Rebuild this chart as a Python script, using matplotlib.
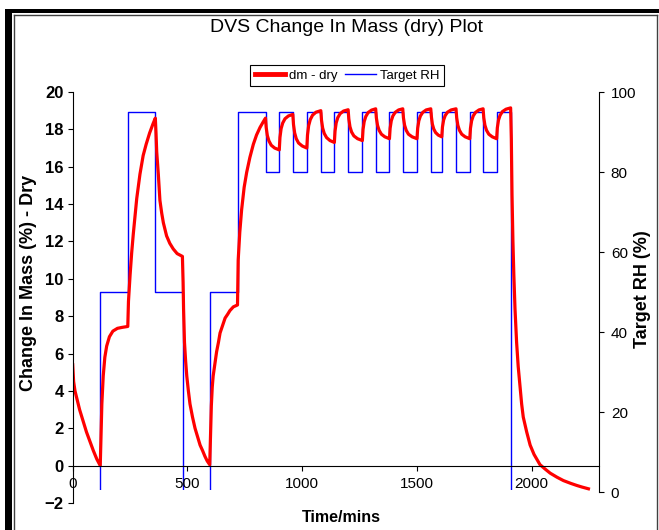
import matplotlib
matplotlib.use("Agg")
import matplotlib.pyplot as plt
from matplotlib.patches import Rectangle
from matplotlib.lines import Line2D

plt.rcParams['font.family'] = ['Liberation Sans', 'DejaVu Sans']

# target RH steps (minutes, %)
rh_time = [0, 120, 240, 360, 480, 600, 720, 840, 900, 959, 1020, 1081, 1140,
           1200, 1262, 1320, 1380, 1438, 1500, 1560, 1608, 1670, 1730, 1788,
           1847, 1910, 2290]
rh_val = [0, 50, 95, 50, 0, 50, 95, 80, 95, 80, 95, 80, 95,
          80, 95, 80, 95, 80, 95, 80, 95, 80, 95, 80,
          95, 0, 0]

# change in mass (dry)
mass_time = [0, 4, 10, 20, 30, 45, 60, 75, 90, 105, 120,
             123, 127, 133, 140, 148, 160, 175, 195, 215, 240,
             243, 250, 257, 264, 272, 279, 293, 307, 320, 335, 350, 360,
             363, 366, 373, 380, 388, 395, 409, 423, 438, 455, 478,
             481, 483, 487, 492, 497, 504, 511, 522, 533, 545, 555, 566, 576, 586, 597,
             601, 604, 608, 612, 620, 627, 635, 642, 653, 664, 675, 685, 700, 718,
             721, 728, 736, 747, 758, 772, 787, 801, 816, 830, 840,
             843, 848, 855, 865, 880, 900,
             903, 908, 915, 925, 940, 959,
             962, 967, 974, 984, 1000, 1020,
             1023, 1028, 1035, 1045, 1060, 1081,
             1084, 1089, 1096, 1106, 1121, 1140,
             1143, 1148, 1155, 1165, 1180, 1200,
             1203, 1208, 1215, 1225, 1241, 1262,
             1265, 1270, 1277, 1287, 1302, 1320,
             1323, 1328, 1335, 1345, 1360, 1380,
             1383, 1388, 1395, 1405, 1420, 1438,
             1441, 1446, 1453, 1463, 1479, 1500,
             1503, 1508, 1515, 1525, 1540, 1560,
             1563, 1567, 1573, 1581, 1593, 1608,
             1611, 1616, 1623, 1633, 1649, 1670,
             1673, 1678, 1685, 1695, 1710, 1730,
             1733, 1738, 1745, 1755, 1770, 1788,
             1791, 1796, 1803, 1813, 1828, 1847,
             1850, 1855, 1862, 1872, 1888, 1908,
             1911, 1914, 1918, 1922, 1927, 1934, 1941, 1949, 1956, 1963, 1978,
             1993, 2010, 2036, 2060, 2080, 2110, 2138, 2170, 2196, 2220, 2247]
mass_dry = [5.4, 4.5, 4.0, 3.5, 3.0, 2.4, 1.8, 1.3, 0.8, 0.35, 0.0,
            1.5, 3.3, 4.8, 5.8, 6.4, 6.9, 7.2, 7.35, 7.4, 7.45,
            8.8, 10.2, 11.4, 12.4, 13.4, 14.3, 15.6, 16.6, 17.2, 17.8, 18.3, 18.6,
            17.8, 16.8, 15.6, 14.2, 13.5, 13.0, 12.3, 11.9, 11.6, 11.35, 11.2,
            9.8, 8.4, 6.6, 5.6, 4.8, 4.0, 3.3, 2.6, 2.0, 1.5, 1.1, 0.8, 0.5, 0.25, 0.05,
            1.9, 3.2, 4.2, 4.8, 5.5, 6.1, 6.6, 7.1, 7.5, 7.9, 8.1, 8.3, 8.5, 8.6,
            11.0, 12.5, 13.7, 14.9, 15.7, 16.5, 17.2, 17.7, 18.1, 18.4, 18.6,
            18.1, 17.67, 17.38, 17.15, 17.0, 16.9,
            17.57, 18.04, 18.34, 18.57, 18.72, 18.8,
            18.26, 17.81, 17.5, 17.27, 17.11, 17.0,
            17.7, 18.2, 18.52, 18.76, 18.92, 19.0,
            18.49, 18.07, 17.78, 17.56, 17.4, 17.3,
            17.91, 18.35, 18.63, 18.84, 18.98, 19.05,
            18.56, 18.14, 17.86, 17.65, 17.5, 17.4,
            18.0, 18.42, 18.69, 18.9, 19.03, 19.1,
            18.62, 18.22, 17.95, 17.74, 17.6, 17.5,
            18.06, 18.46, 18.72, 18.91, 19.04, 19.1,
            18.62, 18.22, 17.95, 17.74, 17.6, 17.5,
            18.06, 18.46, 18.72, 18.91, 19.04, 19.1,
            18.65, 18.28, 18.02, 17.83, 17.69, 17.6,
            18.13, 18.5, 18.74, 18.92, 19.04, 19.1,
            18.62, 18.22, 17.95, 17.74, 17.6, 17.5,
            18.06, 18.46, 18.72, 18.91, 19.04, 19.1,
            18.62, 18.22, 17.95, 17.74, 17.6, 17.5,
            18.08, 18.49, 18.75, 18.95, 19.08, 19.15,
            17.5, 14.5, 12.0, 10.2, 8.4, 6.6, 5.3, 4.2, 3.3, 2.6, 1.8,
            1.1, 0.6, 0.05, -0.2, -0.4, -0.62, -0.8, -0.95, -1.06, -1.15, -1.24]

W, H = 659, 530
fig = plt.figure(figsize=(W / 100, H / 100), dpi=100)
ax = fig.add_axes([72.7 / W, 27 / H, 526.3 / W, 411 / H])
ax2 = ax.twinx()

# red on top of blue
ax.set_zorder(ax2.get_zorder() + 1)
ax.patch.set_visible(False)

l1, = ax.plot(mass_time, mass_dry, color='red', lw=2.3, solid_joinstyle='round')
l2, = ax2.plot(rh_time, rh_val, color='#0000ff', lw=1.0, drawstyle='steps-post')
clip = Rectangle((0, 0.4), 2400, 110, transform=ax2.transData)
l2.set_clip_path(clip)

ax.set_xlim(0, 2293)
ax.set_ylim(-2, 20)
ax.set_yticks(range(-2, 21, 2))
ax.set_xticks([0, 500, 1000, 1500, 2000])
ax2.set_ylim(-2.75, 100)
ax2.set_yticks(range(0, 101, 20))

for s in ['top', 'right']:
    ax.spines[s].set_visible(False)
ax.spines['bottom'].set_position(('data', 0))
for s in ['top', 'left', 'bottom']:
    ax2.spines[s].set_visible(False)
ax2.spines['right'].set_bounds(0, 100)
for sp in [ax.spines['left'], ax.spines['bottom'], ax2.spines['right']]:
    sp.set_linewidth(0.8)

ax.tick_params(axis='y', direction='out', length=3.5, width=0.8, pad=3, labelsize=12)
for t in ax.get_yticklabels():
    t.set_fontweight('bold')
ax.tick_params(axis='x', direction='out', length=3.5, width=0.8, pad=4.5, labelsize=11)
ax2.tick_params(axis='y', direction='out', length=3.5, width=0.8, pad=5, labelsize=11)

ax.set_ylabel('Change In Mass (%) - Dry', fontsize=13, fontweight='bold')
ax.yaxis.set_label_coords(-0.068, 0.535)
ax2.set_ylabel('Target RH (%)', fontsize=13, fontweight='bold')
ax2.yaxis.set_label_coords(1.066, 0.52)
ax.set_xlabel('Time/mins', fontsize=11.5, fontweight='bold')
ax.xaxis.set_label_coords(0.51, -0.016)

fig.text(346 / W, (H - 27) / H, 'DVS Change In Mass (dry) Plot', fontsize=14,
         ha='center', va='center')

leg = fig.legend([l1, l2], ['dm - dry', 'Target RH'], loc='center',
                 bbox_to_anchor=(347 / W, (H - 75.5) / H), ncol=2, fontsize=9.5,
                 frameon=True, fancybox=False, edgecolor='black', framealpha=1,
                 handlelength=2.3, columnspacing=0.6, handletextpad=0.3,
                 borderpad=0.35, borderaxespad=0)
leg.get_frame().set_linewidth(0.8)
leg.get_lines()[0].set_linewidth(3.5)

# chart border
fig.patches.append(Rectangle((5 / W, 0), 7 / W, (H - 9) / H, transform=fig.transFigure,
                             color='black', lw=0))
fig.patches.append(Rectangle((5 / W, (H - 13) / H), (W - 5) / W, 4 / H,
                             transform=fig.transFigure, color='black', lw=0))
yt = (H - 14.5) / H
for xs, ys in [([13.5 / W, 13.5 / W], [0, yt]), ([13.5 / W, 657 / W], [yt, yt]),
               ([657 / W, 657 / W], [0, yt])]:
    fig.add_artist(Line2D(xs, ys, color='#404040', lw=1.0, transform=fig.transFigure))

fig.savefig('out.png', dpi=100)
